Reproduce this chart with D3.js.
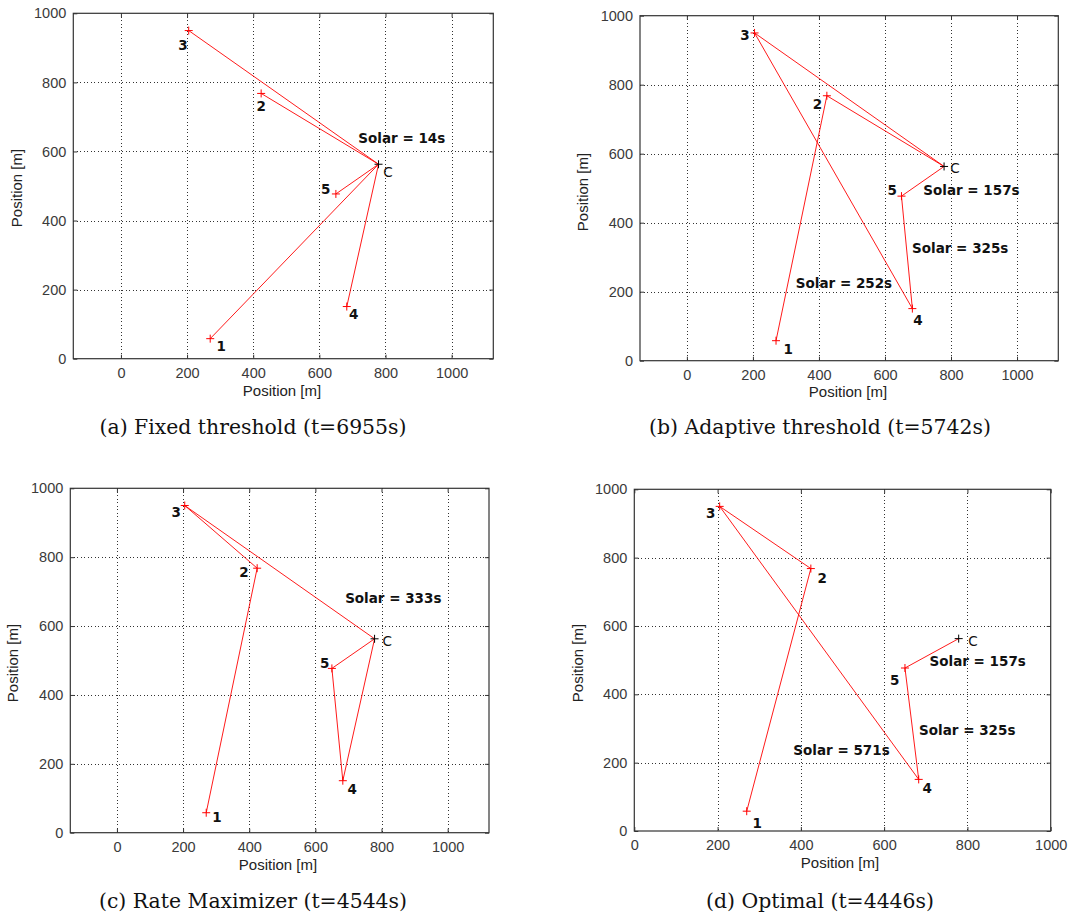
<!DOCTYPE html>
<html><head><meta charset="utf-8">
<script src="https://cdn.jsdelivr.net/npm/d3@7"></script>
<style>body{margin:0;background:#fff}svg{display:block}</style>
</head><body>
<script>
// Node positions [m]
const nodeNames = ["1","2","3","4","5","C"];
const nodeX = [270, 424, 205, 683, 650, 779];
const nodeY = [58, 768, 950, 151, 477, 563];

const xTicks = [0, 200, 400, 600, 800, 1000];
const yTicks = [0, 200, 400, 600, 800, 1000];

const captions = ["(a) Fixed threshold (t=6955s)", "(b) Adaptive threshold (t=5742s)",
                  "(c) Rate Maximizer (t=4544s)", "(d) Optimal (t=4446s)"];

// Path segments (node name pairs) per strategy
const segA = [["C","3"],["C","2"],["C","5"],["C","1"],["C","4"]];
const segB = [["1","2"],["2","C"],["C","3"],["3","4"],["4","5"],["5","C"]];
const segC = [["1","2"],["2","3"],["3","C"],["C","5"],["5","4"],["4","C"]];
const segD = [["1","2"],["2","3"],["3","4"],["4","5"],["5","C"]];

// Solar annotations: text, x, y (data units, left/middle anchored)
const solarA = [["Solar = 14s", 718, 635]];
const solarB = [["Solar = 157s", 716, 493], ["Solar = 325s", 682, 323], ["Solar = 252s", 330, 222]];
const solarC = [["Solar = 333s", 690, 679]];
const solarD = [["Solar = 157s", 709, 494], ["Solar = 325s", 684, 293], ["Solar = 571s", 382, 234]];

// Node label positions (data units) per panel, order as nodeNames
const labA = [[289,35],[410,728],[173,906],[690,126],[605,488],[793,539]];
const labB = [[293,31],[381,740],[162,940],[686,116],[608,493],[798,557]];
const labC = [[288,44],[370,753],[165,927],[697,124],[614,489],[803,555]];
const labD = [[284,20],[440,737],[172,928],[692,123],[614,439],[802,552]];

const panels = [
  {rect:[73.3,13.3,493.3,358.7], xd:[-144,1126], seg:segA, solar:solarA, lab:labA, cap:[253,428], xl:[282,392], yl:[18,188]},
  {rect:[640,15.7,1058.3,360.7], xd:[-142,1125], seg:segB, solar:solarB, lab:labB, cap:[820,428], xl:[848,393], yl:[584,192]},
  {rect:[70.3,488.3,489,832.7], xd:[-141,1125], seg:segC, solar:solarC, lab:labC, cap:[253,902], xl:[278,866], yl:[14,663]},
  {rect:[634.3,489.3,1050.7,831], xd:[0,1000], seg:segD, solar:solarD, lab:labD, cap:[820,902], xl:[840,864], yl:[579,663]}
];

const W = 1092, H = 916;
const svg = d3.select("body").append("svg").attr("width", W).attr("height", H)
  .style("font-family", "'Liberation Sans', Arial, sans-serif");

const idx = n => nodeNames.indexOf(n);

panels.forEach((p, pi) => {
  const [l, t, r, b] = p.rect;
  const x = d3.scaleLinear().domain(p.xd).range([l, r]);
  const y = d3.scaleLinear().domain([0, 1000]).range([b, t]);
  const g = svg.append("g");

  // grid
  const grid = g.append("g").attr("stroke", "#333").attr("stroke-width", 1)
    .attr("stroke-dasharray", "1,2.5").attr("shape-rendering", "crispEdges");
  xTicks.forEach(v => {
    const px = Math.round(x(v)) + 0.5;
    if (px > l + 1 && px < r - 1)
      grid.append("line").attr("x1", px).attr("x2", px).attr("y1", t).attr("y2", b);
  });
  yTicks.forEach(v => {
    const py = Math.round(y(v)) + 0.5;
    if (py > t + 1 && py < b - 1)
      grid.append("line").attr("y1", py).attr("y2", py).attr("x1", l).attr("x2", r);
  });

  // axes with inward ticks (bottom, left, top, right)
  const fmt = d3.format("d");
  const ax = g.append("g").attr("transform", `translate(0,${b})`)
    .call(d3.axisBottom(x).tickValues(xTicks).tickSizeInner(-4).tickSizeOuter(0).tickPadding(9).tickFormat(fmt));
  const ay = g.append("g").attr("transform", `translate(${l},0)`)
    .call(d3.axisLeft(y).tickValues(yTicks).tickSizeInner(-4).tickSizeOuter(0).tickPadding(7).tickFormat(fmt));
  const at = g.append("g").attr("transform", `translate(0,${t})`)
    .call(d3.axisTop(x).tickValues(xTicks).tickSizeInner(-4).tickSizeOuter(0).tickFormat(""));
  const ar = g.append("g").attr("transform", `translate(${r},0)`)
    .call(d3.axisRight(y).tickValues(yTicks).tickSizeInner(-4).tickSizeOuter(0).tickFormat(""));
  [ax, ay, at, ar].forEach(a => {
    a.select(".domain").remove();
    a.selectAll("line").attr("stroke", "#333");
    a.selectAll("text").attr("fill", "#3a3a3a").style("font-size", "14.5px")
      .style("font-family", "'Liberation Sans', Arial, sans-serif");
  });
  ax.selectAll("text").attr("dy", "0.71em");
  g.append("rect").attr("x", l).attr("y", t).attr("width", r - l).attr("height", b - t)
    .attr("fill", "none").attr("stroke", "#333").attr("stroke-width", 1.2);

  // segments
  g.append("g").selectAll("line").data(p.seg).join("line")
    .attr("x1", d => x(nodeX[idx(d[0])])).attr("y1", d => y(nodeY[idx(d[0])]))
    .attr("x2", d => x(nodeX[idx(d[1])])).attr("y2", d => y(nodeY[idx(d[1])]))
    .attr("stroke", "#ff0000").attr("stroke-width", 0.9);

  // markers
  nodeNames.forEach((n, i) => {
    const cx = x(nodeX[i]), cy = y(nodeY[i]);
    const col = n === "C" ? "#000" : "#ff0000";
    const m = g.append("g").attr("stroke", col).attr("stroke-width", 1);
    m.append("line").attr("x1", cx - 4).attr("x2", cx + 4).attr("y1", cy).attr("y2", cy);
    m.append("line").attr("x1", cx).attr("x2", cx).attr("y1", cy - 4).attr("y2", cy + 4);
  });

  // node labels
  g.append("g").selectAll("text").data(p.lab).join("text")
    .attr("x", d => x(d[0])).attr("y", d => y(d[1]))
    .attr("dominant-baseline", "middle")
    .attr("font-family", "'DejaVu Sans', sans-serif")
    .attr("font-size", 13.5)
    .attr("font-weight", (d, i) => nodeNames[i] === "C" ? "normal" : "bold")
    .attr("fill", "#111")
    .text((d, i) => nodeNames[i]);

  // solar labels
  g.append("g").selectAll("text").data(p.solar).join("text")
    .attr("x", d => x(d[1])).attr("y", d => y(d[2]))
    .attr("dominant-baseline", "middle")
    .attr("font-family", "'DejaVu Sans', sans-serif")
    .attr("font-size", 13.5).attr("font-weight", "bold").attr("fill", "#111")
    .text(d => d[0]);

  // axis titles
  g.append("text").attr("x", p.xl[0]).attr("y", p.xl[1]).attr("text-anchor", "middle")
    .attr("dominant-baseline", "middle").attr("font-size", 15).attr("fill", "#222").text("Position [m]");
  g.append("text").attr("transform", `translate(${p.yl[0]},${p.yl[1]}) rotate(-90)`)
    .attr("text-anchor", "middle").attr("dominant-baseline", "middle")
    .attr("font-size", 15).attr("fill", "#222").text("Position [m]");

  // caption
  g.append("text").attr("x", p.cap[0]).attr("y", p.cap[1]).attr("text-anchor", "middle")
    .attr("dominant-baseline", "middle").attr("font-family", "'DejaVu Serif', serif")
    .attr("font-size", 20.4).attr("fill", "#111").text(captions[pi]);
});
</script>
</body></html>
